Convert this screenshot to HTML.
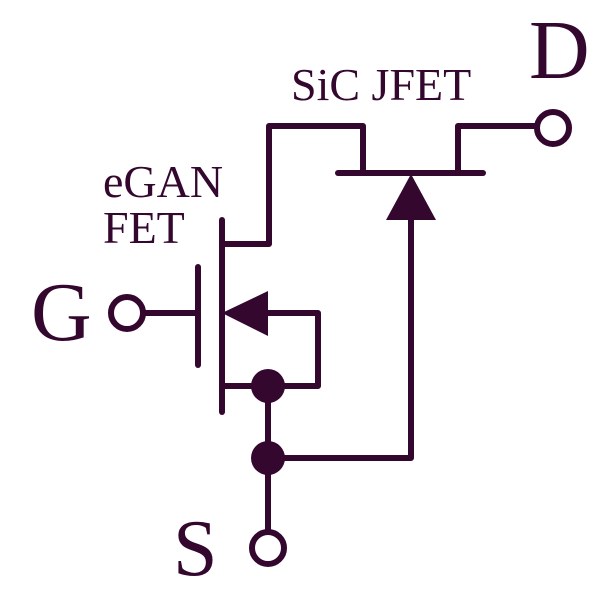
<!DOCTYPE html>
<html><head><style>
html,body{margin:0;padding:0;background:#fff;}
svg{display:block;}
text{font-family:"Liberation Serif",serif;fill:#33072e;}
</style></head><body>
<svg width="604" height="602" viewBox="0 0 604 602" xmlns="http://www.w3.org/2000/svg">
<g stroke="#33072e" stroke-width="6" fill="none" stroke-linecap="round" stroke-linejoin="round">
<line x1="198" y1="267" x2="198" y2="365"/>
<line x1="222" y1="220" x2="222" y2="412"/>
<polyline points="222,244 269,244 269,126 363,126 363,173"/>
<line x1="338" y1="173" x2="483" y2="173"/>
<polyline points="458,173 458,126 536,126"/>
<polyline points="411,220 411,458 268,458"/>
<polyline points="268,313 318,313 318,386 222,386"/>
<line x1="268" y1="386" x2="268" y2="531"/>
<line x1="144" y1="313" x2="198" y2="313"/>
<circle cx="127" cy="313" r="16"/>
<circle cx="553" cy="128" r="16"/>
<circle cx="268" cy="548" r="16"/>
</g>
<g fill="#33072e">
<polygon points="411,174 386,220 436,220"/>
<polygon points="222,313 268,291 268,336"/>
<circle cx="268" cy="386" r="17"/>
<circle cx="268" cy="458" r="17"/>
</g>
<text x="103" y="197" font-size="46">eGAN</text>
<text x="103" y="243" font-size="46">FET</text>
<text x="291" y="100" font-size="46">SiC JFET</text>
<text x="529" y="78" font-size="84">D</text>
<text x="31" y="340" font-size="84">G</text>
<text x="173" y="575" font-size="80">S</text>
</svg>
</body></html>
